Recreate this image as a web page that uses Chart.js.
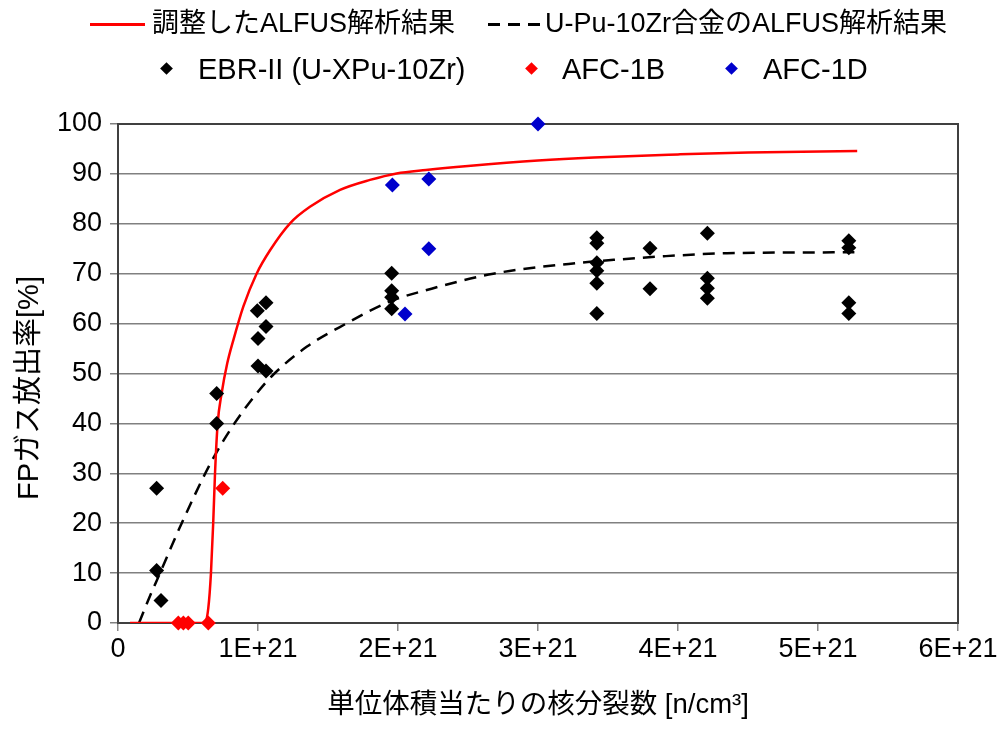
<!DOCTYPE html>
<html lang="ja">
<head>
    <meta charset="UTF-8">
    <title>FPガス放出率</title>
    <script src="https://cdn.jsdelivr.net/npm/chart.js@4.4.1/dist/chart.umd.min.js"></script>
    <style>
        body { margin: 0; background: #fff; }
        .wrap { position: relative; width: 1005px; height: 729px; }
        .lg { position: absolute; height: 36px; line-height: 36px;
              font-family: "Liberation Sans", "Noto Sans CJK JP", sans-serif; color: #000; white-space: nowrap; }
        .r1 { font-size: 27px; }
        .r2 { font-size: 29px; }
        .mk { position: absolute; }
        .dia { width: 9px; height: 9px; transform: rotate(45deg); }
        .ytitle { position: absolute; left: 28px; top: 388px; font-size: 29px;
                  transform: translate(-50%, -50%) rotate(-90deg); }
    </style>
</head>
<body>
<div class="wrap">
    <canvas id="chart" width="1005" height="729"></canvas>
    <!-- 凡例 -->
    <div class="mk" style="left:90px; top:23px; width:55px; height:3px; background:#ff0000;"></div>
    <div class="lg r1" style="left:152px; top:5px;">調整したALFUS解析結果</div>
    <div class="mk" style="left:488px; top:23px; width:52px; height:3px; background:repeating-linear-gradient(90deg,#000 0 12px,transparent 12px 20px);"></div>
    <div class="lg r1" style="left:545px; top:5px;">U-Pu-10Zr合金のALFUS解析結果</div>
    <div class="mk dia" style="left:162px; top:64px; background:#000;"></div>
    <div class="lg r2" style="left:198px; top:51px;">EBR-II (U-XPu-10Zr)</div>
    <div class="mk dia" style="left:527px; top:64px; background:#ff0000;"></div>
    <div class="lg r2" style="left:562px; top:51px;">AFC-1B</div>
    <div class="mk dia" style="left:727px; top:64px; background:#0000cc;"></div>
    <div class="lg r2" style="left:763px; top:51px;">AFC-1D</div>
    <!-- 縦軸タイトル -->
    <div class="lg ytitle">FPガス放出率[%]</div>
</div>
<script>
    // x: 単位 1E+21 n/cm3, y: %
    const xTickLabels = ['0', '1E+21', '2E+21', '3E+21', '4E+21', '5E+21', '6E+21'];

    const ebrX = [0.276, 0.276, 0.307, 0.705, 0.705,
                  0.995, 1.057, 1.057, 1.0, 1.0, 1.057,
                  1.955, 1.955, 1.955, 1.955,
                  3.42, 3.42, 3.42, 3.42, 3.42, 3.42,
                  3.80, 3.80,
                  4.21, 4.21, 4.21, 4.21,
                  5.22, 5.22, 5.22, 5.22];
    const ebrY = [27, 10.5, 4.5, 46, 40,
                  62.6, 64.2, 59.4, 57.0, 51.5, 50.5,
                  70.1, 66.6, 65.3, 63.0,
                  77.2, 76.1, 72.2, 70.6, 68.1, 62,
                  75.1, 67,
                  78.1, 69.1, 67.1, 65.1,
                  76.6, 75.2, 64.2, 62];

    const afc1bX = [0.431, 0.467, 0.502, 0.645, 0.748];
    const afc1bY = [0, 0, 0, 0, 27];

    const afc1dX = [1.96, 2.05, 2.22, 2.22, 3.0];
    const afc1dY = [87.8, 61.9, 89, 75, 100];

    const adjX = [0.086, 0.62, 0.645, 0.664, 0.68, 0.693, 0.712, 0.74, 0.78, 0.824, 0.895, 0.99, 1.086, 1.229, 1.371, 1.586, 1.8, 1.99, 2.2, 2.5, 3.0, 3.4, 4.0, 4.5, 5.28];
    const adjY = [0, 0, 3, 10, 20, 30, 40, 46, 52, 56.7, 63.4, 70, 74.7, 80.1, 83.4, 86.8, 88.8, 90.1, 90.8, 91.6, 92.7, 93.3, 93.9, 94.3, 94.6];

    const uzrX = [0.15, 0.23, 0.3, 0.455, 0.67, 0.82, 0.99, 1.11, 1.35, 1.63, 1.94, 2.24, 2.68, 3.3, 3.6, 3.9, 4.35, 5.26];
    const uzrY = [0, 5.5, 10, 20, 32.5, 39.5, 46, 49.8, 55.4, 60, 64.4, 67, 70, 72.2, 72.9, 73.5, 74.1, 74.3];

    const pts = (xs, ys) => xs.map((x, i) => ({ x: x, y: ys[i] }));
    const fontFam = '"Liberation Sans", "Noto Sans CJK JP", sans-serif';

    // プロットエリアの枠線
    const frame = {
        id: 'frame',
        beforeDatasetsDraw(chart) {
            const a = chart.chartArea, c = chart.ctx;
            c.save();
            c.strokeStyle = '#404040';
            c.lineWidth = 2;
            c.strokeRect(a.left, a.top, a.right - a.left, a.bottom - a.top);
            c.restore();
        }
    };

    new Chart(document.getElementById('chart'), {
        type: 'scatter',
        data: {
            datasets: [
                {
                    label: 'EBR-II (U-XPu-10Zr)', data: pts(ebrX, ebrY),
                    pointStyle: 'rectRot', pointRadius: 7.5, backgroundColor: '#000', borderWidth: 0,
                    order: 0, clip: false
                },
                {
                    label: 'AFC-1B', data: pts(afc1bX, afc1bY),
                    pointStyle: 'rectRot', pointRadius: 7.5, backgroundColor: '#ff0000', borderWidth: 0,
                    order: 0, clip: false
                },
                {
                    label: 'AFC-1D', data: pts(afc1dX, afc1dY),
                    pointStyle: 'rectRot', pointRadius: 7.5, backgroundColor: '#0000cc', borderWidth: 0,
                    order: 0, clip: false
                },
                {
                    label: '調整したALFUS解析結果', data: pts(adjX, adjY),
                    showLine: true, pointRadius: 0, borderColor: '#ff0000', borderWidth: 2.5,
                    cubicInterpolationMode: 'monotone', order: 1
                },
                {
                    label: 'U-Pu-10Zr合金のALFUS解析結果', data: pts(uzrX, uzrY),
                    showLine: true, pointRadius: 0, borderColor: '#000', borderWidth: 2.5,
                    borderDash: [12, 8], cubicInterpolationMode: 'monotone', order: 1
                }
            ]
        },
        options: {
            responsive: false,
            animation: false,
            devicePixelRatio: 1,
            layout: { padding: { top: 124, right: 47, bottom: 0, left: 0 } },
            plugins: { legend: { display: false }, tooltip: { enabled: false } },
            scales: {
                x: {
                    type: 'linear', min: 0, max: 6,
                    afterFit: s => { s.height = 106; },
                    afterBuildTicks: s => { s.ticks = xTickLabels.map((t, i) => ({ value: i })); },
                    ticks: {
                        callback: (v, i) => xTickLabels[i],
                        font: { family: fontFam, size: 27 }, color: '#000', padding: 2, maxRotation: 0
                    },
                    grid: { drawOnChartArea: false, drawTicks: true, tickLength: 8, color: '#888', lineWidth: 1.5 },
                    border: { display: false },
                    title: {
                        display: true, text: '単位体積当たりの核分裂数 [n/cm³]',
                        font: { family: fontFam, size: 27.5 }, color: '#000', padding: { top: 0, bottom: 7 }
                    }
                },
                y: {
                    min: 0, max: 100,
                    afterFit: s => { s.width = 118; },
                    ticks: { stepSize: 10, font: { family: fontFam, size: 27 }, color: '#000', padding: 8 },
                    grid: { color: '#808080', lineWidth: 1.5, tickLength: 8 },
                    border: { display: false }
                }
            }
        },
        plugins: [frame]
    });
</script>
</body>
</html>
